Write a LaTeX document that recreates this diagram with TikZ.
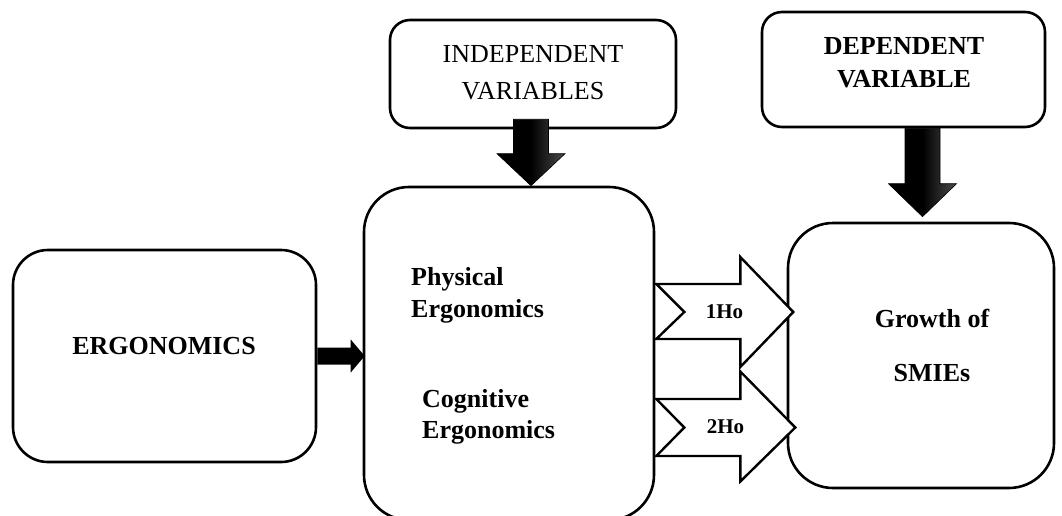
\documentclass[tikz,border=0pt]{standalone}
\usepackage{fontspec}
\setmainfont{Liberation Serif}
\usetikzlibrary{calc}
\begin{document}
\begin{tikzpicture}[x=1pt,y=-1pt,
  box/.style={draw=black,line width=2.6pt,fill=white,rounded corners=#1,inner sep=0pt},
  box/.default=40pt,
  lbl/.style={inner sep=0pt,font=\fontsize{26}{30}\selectfont},
  blbl/.style={lbl,font=\fontsize{26}{30}\selectfont\bfseries},
  fat/.style={draw=black,line width=0.6pt,left color=black,right color=black!70,middle color=black},
  hollow/.style={draw=black,line width=2.4pt,fill=white,line join=miter}]
\useasboundingbox (0,0) rectangle (1062,516);
% boxes
\node[box=35pt,minimum width=303pt,minimum height=212pt] (ergo) at (164.5,356) {};
\node[box=45pt,minimum width=290pt,minimum height=333pt] (mid) at (509,353.5) {};
\node[box=20pt,minimum width=286pt,minimum height=108pt] (indep) at (533,74) {};
\node[box=20pt,minimum width=283pt,minimum height=115pt] (dep) at (903.5,69.5) {};
\node[box=45pt,minimum width=266pt,minimum height=265pt] (grow) at (921,355.5) {};
% texts
\node[blbl,anchor=base] (tergo) at (164,354) {ERGONOMICS};
\node[lbl,anchor=base] (tind1) at (533,63) {INDEPENDENT};
\node[lbl,anchor=base] (tind2) at (533,100) {VARIABLES};
\node[blbl,anchor=base] (tdep1) at (904,55) {DEPENDENT};
\node[blbl,anchor=base] (tdep2) at (904,88) {VARIABLE};
\node[blbl,anchor=base west] (tphy1) at (411,285) {Physical};
\node[blbl,anchor=base west] (tphy2) at (411,317) {Ergonomics};
\node[blbl,anchor=base west] (tcog1) at (422,407) {Cognitive};
\node[blbl,anchor=base west] (tcog2) at (422,438) {Ergonomics};
\node[blbl,anchor=base] (tgr1) at (932,327) {Growth of};
\node[blbl,anchor=base] (tgr2) at (932,381) {SMIEs};
% fat down arrow from independent box
\coordinate (ta) at ($(indep.south |- mid.north)+(-2,0)$);
\coordinate (sa) at ($(indep.south)+(-2,-10)$);
\path[fat] ($(sa)+(-17.5,0)$) -- ($(ta)+(-17.5,-32)$) -- ($(ta)+(-34,-32)$) -- (ta)
  -- ($(ta)+(34,-32)$) -- ($(ta)+(17.5,-32)$) -- ($(sa)+(17.5,0)$) -- cycle;
% fat down arrow from dependent box
\coordinate (sb) at ($(dep.south)+(19,0)$);
\coordinate (tb) at ($(sb |- grow.north)+(0,-5)$);
\path[fat] ($(sb)+(-17.5,0)$) -- ($(tb)+(-17.5,-33)$) -- ($(tb)+(-34,-33)$) -- (tb)
  -- ($(tb)+(34,-33)$) -- ($(tb)+(17.5,-33)$) -- ($(sb)+(17.5,0)$) -- cycle;
% small arrow ergonomics -> middle
\coordinate (sc) at (ergo.east);
\coordinate (tc) at ($(mid.west |- ergo.east)+(2,0)$);
\path[fill=black] ($(sc)+(0,-8.5)$) -- ($(tc)+(-14,-8.5)$) -- ($(tc)+(-14,-16.5)$) -- (tc)
  -- ($(tc)+(-14,16.5)$) -- ($(tc)+(-14,8.5)$) -- ($(sc)+(0,8.5)$) -- cycle;
% hollow notched arrows middle -> growth
\coordinate (h1) at ($(mid.east)+(1,-41.5)$);
\coordinate (h2) at ($(mid.east)+(1,74)$);
\draw[hollow] ($(h1)+(0,-28)$) -- ($(h1)+(84,-28)$) -- ($(h1)+(84,-55)$) -- ($(h1)+(137,0)$)
  -- ($(h1)+(84,55)$) -- ($(h1)+(84,27)$) -- ($(h1)+(0,27)$) -- ($(h1)+(28,0)$) -- cycle;
\draw[hollow] ($(h2)+(0,-28.5)$) -- ($(h2)+(84,-28.5)$) -- ($(h2)+(84,-56)$) -- ($(h2)+(139,0)$)
  -- ($(h2)+(84,54)$) -- ($(h2)+(84,28.5)$) -- ($(h2)+(0,28.5)$) -- ($(h2)+(28,0)$) -- cycle;
\node[blbl,anchor=base,font=\fontsize{21}{24}\selectfont\bfseries] (t1ho) at (724.5,318) {1Ho};
\node[blbl,anchor=base,font=\fontsize{21}{24}\selectfont\bfseries] (t2ho) at (725.5,433) {2Ho};
\end{tikzpicture}
\end{document}
